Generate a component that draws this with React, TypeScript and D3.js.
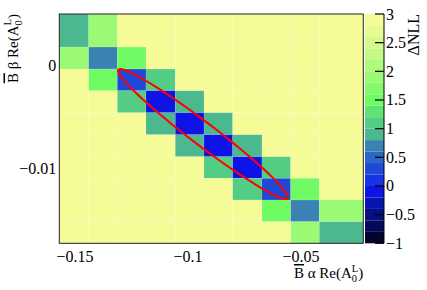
import React from "react";
import * as d3 from "d3";

// Bin edges (data units)
const xEdges = [-0.15695, -0.14394, -0.13128, -0.11858, -0.10562, -0.09292, -0.08022, -0.06726, -0.05456, -0.0419, -0.02243];
const yEdges = [0.00499, 0.00179, -0.00034, -0.00244, -0.00457, -0.0067, -0.00883, -0.01092, -0.01302, -0.01512, -0.01721];
// ΔNLL values, rows from top to bottom, columns left to right (3 = saturated)
const nll: number[][] = [
  [0.9, 1.9, 3, 3, 3, 3, 3, 3, 3, 3],
  [1.9, 0.7, 1.5, 3, 3, 3, 3, 3, 3, 3],
  [3, 1.5, 0.3, 1.1, 3, 3, 3, 3, 3, 3],
  [3, 3, 1.1, -0.1, 0.9, 3, 3, 3, 3, 3],
  [3, 3, 3, 0.9, -0.1, 0.9, 3, 3, 3, 3],
  [3, 3, 3, 3, 0.9, -0.1, 0.9, 3, 3, 3],
  [3, 3, 3, 3, 3, 1.1, -0.1, 1.1, 3, 3],
  [3, 3, 3, 3, 3, 3, 1.1, 0.3, 1.5, 3],
  [3, 3, 3, 3, 3, 3, 3, 1.5, 0.7, 1.9],
  [3, 3, 3, 3, 3, 3, 3, 3, 1.9, 0.9],
];
const xTicks = [-0.15, -0.1, -0.05];
const xTickLabels = ["\u22120.15", "\u22120.1", "\u22120.05"];
const yTicks = [0, -0.01];
const yTickLabels = ["0", "\u22120.01"];
const zTicks = [3, 2.5, 2, 1.5, 1, 0.5, 0, -0.5, -1];
const zTickLabels = ["3", "2.5", "2", "1.5", "1", "0.5", "0", "\u22120.5", "\u22121"];
const zMin = -1;
const zMax = 3;
const palette = [
  "#03052e", "#040a58", "#060f84", "#0814b0", "#0f14e6",
  "#1634e6", "#2048d8", "#2c66c6", "#3a82b4", "#4bb88f",
  "#53cd84", "#5fe474", "#6efb64", "#84f96c", "#9afa74",
  "#aefa7c", "#c2fa84", "#d6fa8c", "#e8fa92", "#f5fb96",
];
// 1-sigma contour ellipse
const ell = { cx: -0.09336, cy: -0.00663, sx: 0.0376, sy: 0.00629, rho: -0.975 };

const W = 427, H = 290;
const L = 59.3, R = 363.3, T = 14, B = 243.3;
const cbL = 365, cbR = 384;
const FONT = "Liberation Serif, DejaVu Serif, serif";
const ts: React.CSSProperties = { fontFamily: FONT, fontSize: 16 };
const tt: React.CSSProperties = { fontFamily: FONT, fontSize: 15 };

function Title({ greek }: { greek: string }) {
  return (
    <>
      <tspan style={{ textDecoration: "overline" }}>B</tspan>
      {` ${greek} Re(A`}
      <tspan fontSize={10.5} dy={-6.5}>L</tspan>
      <tspan fontSize={10.5} dx={-6.4} dy={10.5}>0</tspan>
      <tspan dx={1.2} dy={-4}>)</tspan>
    </>
  );
}

export default function App() {
  const x = d3.scaleLinear().domain([xEdges[0], xEdges[xEdges.length - 1]]).range([L, R]);
  const y = d3.scaleLinear().domain([yEdges[yEdges.length - 1], yEdges[0]]).range([B, T]);
  const z = d3.scaleLinear().domain([zMin, zMax]).range([B, T]);
  const nLev = palette.length;
  const colorOf = (v: number) => {
    let k = Math.floor(((v - zMin) / (zMax - zMin)) * nLev);
    k = Math.max(0, Math.min(nLev - 1, k));
    return palette[k];
  };
  const cells: JSX.Element[] = [];
  nll.forEach((row, r) => {
    row.forEach((v, c) => {
      const x0 = x(xEdges[c]), x1 = x(xEdges[c + 1]);
      const y0 = y(yEdges[r]), y1 = y(yEdges[r + 1]);
      cells.push(
        <rect key={`${r}-${c}`} x={x0} y={y0} width={x1 - x0} height={y1 - y0}
          fill={colorOf(v)} stroke="rgba(255,255,255,0.18)" strokeWidth={0.6} />
      );
    });
  });
  const ellPts: [number, number][] = d3.range(0, 73).map((i) => {
    const t = (i / 72) * 2 * Math.PI;
    const px = ell.cx + ell.sx * Math.cos(t);
    const py = ell.cy + ell.sy * (ell.rho * Math.cos(t) + Math.sqrt(1 - ell.rho * ell.rho) * Math.sin(t));
    return [x(px), y(py)];
  });
  const line = d3.line();
  const levels = d3.range(nLev).map((k) => zMin + (k * (zMax - zMin)) / nLev);
  const step = (zMax - zMin) / nLev;

  return (
    <svg width={W} height={H} style={{ position: "absolute", left: 0, top: 0, background: "#fff" }}>
      <rect x={0} y={0} width={W} height={H} fill="#fff" />
      {cells}
      <path d={line(ellPts) || ""} fill="none" stroke="#ff0000" strokeWidth={2} strokeLinejoin="round" />
      <rect x={L} y={T} width={R - L} height={B - T} fill="none" stroke="#222" strokeWidth={1} />
      {xTicks.map((t, i) => (
        <text key={"xt" + i} x={x(t)} y={262} style={ts} textAnchor="middle">{xTickLabels[i]}</text>
      ))}
      {yTicks.map((t, i) => (
        <text key={"yt" + i} x={L - 3} y={y(t) + 5.5} style={ts} textAnchor="end">{yTickLabels[i]}</text>
      ))}
      {/* x title */}
      <text x={R} y={278} style={tt} textAnchor="end">
        <Title greek={"\u03b1"} />
      </text>
      {/* y title */}
      <text transform={`translate(17.5,${T}) rotate(-90)`} style={tt} textAnchor="end">
        <Title greek={"\u03b2"} />
      </text>
      {/* color bar */}
      {levels.map((lv, k) => (
        <rect key={"cb" + k} x={cbL} y={z(lv + step)} width={cbR - cbL} height={z(lv) - z(lv + step)} fill={palette[k]} />
      ))}
      <line x1={cbR} x2={cbR} y1={T} y2={B} stroke="#000" strokeWidth={1} />
      {zTicks.map((t, i) => (
        <g key={"zt" + i}>
          <line x1={cbR - 9} x2={cbR} y1={z(t)} y2={z(t)} stroke="#000" strokeWidth={1.2} />
          <text x={cbR + 2} y={z(t) + 5.5} style={ts}>{zTickLabels[i]}</text>
        </g>
      ))}
      <text transform={`translate(419,${T}) rotate(-90)`} style={ts} textAnchor="end">{"\u0394NLL"}</text>
    </svg>
  );
}
